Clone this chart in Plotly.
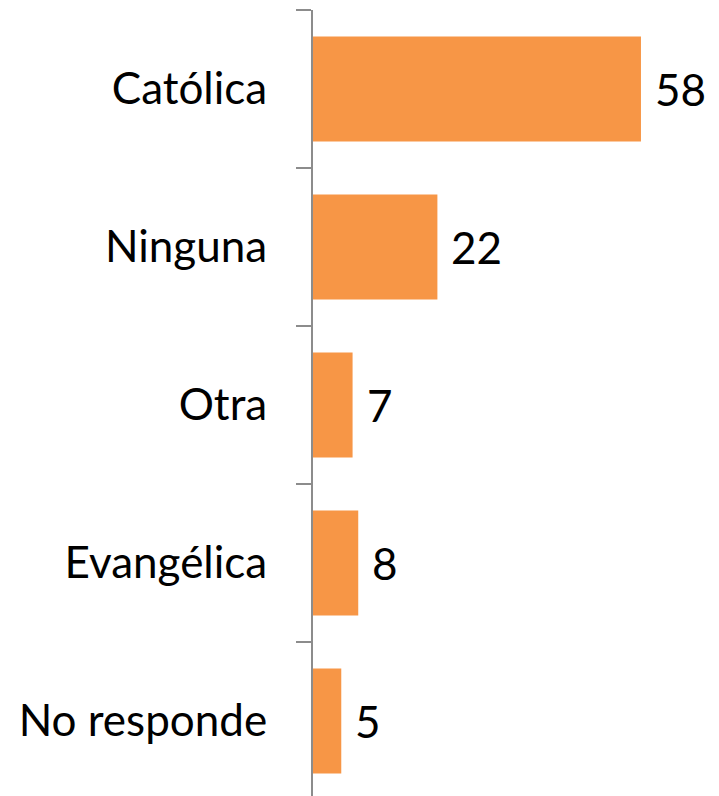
import plotly.graph_objects as go

categories = ["Católica", "Ninguna", "Otra", "Evangélica", "No responde"]
values = [58, 22, 7, 8, 5]

BAR_COLOR = "#F79646"
FONT = "Lato"
FONT_SIZE = 44

fig = go.Figure()
fig.add_trace(go.Bar(
    x=values,
    y=categories,
    orientation="h",
    marker=dict(color=BAR_COLOR, line=dict(width=0)),
    width=0.665,
    hoverinfo="skip",
))

# value labels just right of each bar
for cat, val in zip(categories, values):
    fig.add_annotation(
        x=val, y=cat, text=str(val), showarrow=False,
        xanchor="left", xshift=12,
        font=dict(family=FONT, size=FONT_SIZE, color="black"),
    )

# page body adds an 8px margin, so the figure is sized to fit the window
fig.update_layout(
    width=711, height=788,
    margin=dict(l=305, r=0, t=2, b=0, autoexpand=False),
    plot_bgcolor="white", paper_bgcolor="white",
    showlegend=False,
    font=dict(family=FONT, size=FONT_SIZE, color="black"),
)
fig.update_xaxes(range=[0, 71.8], visible=False, showgrid=False, zeroline=False,
                 automargin=False)
# last category band runs slightly past the bottom edge, as in the original
fig.update_yaxes(
    categoryorder="array", categoryarray=categories, range=[4.475, -0.5],
    showline=True, linecolor="#8C8C8C", linewidth=2,
    ticks="outside", tickson="boundaries", ticklen=15, tickcolor="#8C8C8C", tickwidth=2,
    ticklabelstandoff=35, showgrid=False, zeroline=False, automargin=False,
    tickfont=dict(family=FONT, size=FONT_SIZE, color="black"),
)

fig.write_html("out.html")
